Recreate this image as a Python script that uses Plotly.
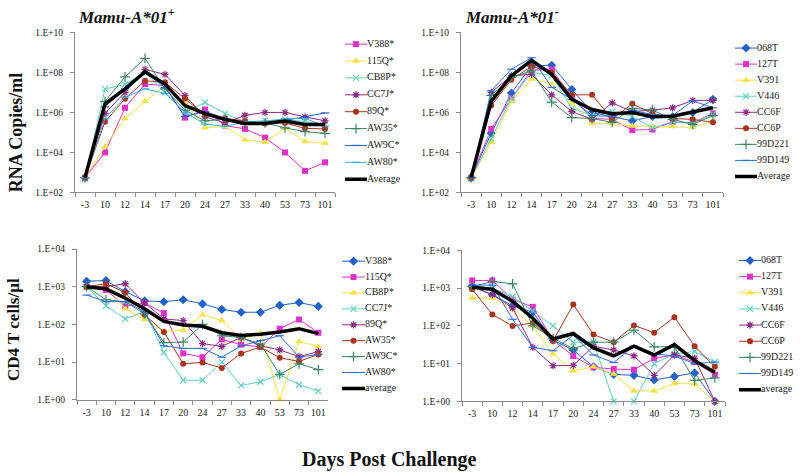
import plotly.graph_objects as go

# ---------------- data ----------------
days = ["-3", "10", "12", "14", "17", "20", "24", "27", "33", "40", "53", "73", "101"]

# RNA copies/ml, Mamu-A*01+
tl_names = ["V388*", "115Q*", "CB8P*", "CC7J*", "89Q*", "AW35*", "AW9C*", "AW80*", "Average"]
tl_V388 = [550, 1.0e4, 1.7e6, 2.6e7, 2.2e7, 5.5e5, 1.4e6, 2.2e5, 1.5e5, 5.5e4, 1.0e4, 1.2e3, 3.2e3]
tl_115Q = [550, 2.0e4, 5.0e5, 3.6e6, 2.2e7, 3.0e6, 1.7e5, 2.0e5, 4.3e4, 3.2e4, 1.6e5, 3.5e4, 2.9e4]
tl_CB8P = [500, 1.5e7, 2.5e7, 1.0e8, 1.0e7, 1.0e6, 3.2e6, 8.7e5, 3.4e5, 4.0e5, 4.4e5, 3.5e5, 2.5e5]
tl_CC7J = [520, 9.0e5, 1.0e7, 1.4e8, 8.0e7, 7.0e6, 6.0e5, 3.0e5, 7.2e5, 1.0e6, 1.0e6, 6.0e5, 3.8e5]
tl_89Q = [550, 3.4e5, 4.8e6, 3.8e7, 3.2e7, 5.0e6, 7.3e5, 5.0e5, 3.7e5, 2.8e5, 3.0e5, 1.6e5, 1.5e5]
tl_AW35 = [550, 3.6e6, 6.0e7, 5.0e8, 1.5e7, 1.3e6, 3.8e5, 4.5e5, 2.5e5, 3.0e5, 1.7e5, 1.1e5, 9.0e4]
tl_AW9C = [550, 1.9e6, 1.5e7, 1.0e8, 1.8e7, 6.3e5, 1.1e6, 5.0e5, 2.8e5, 3.0e5, 4.0e5, 6.0e5, 9.4e5]
tl_AW80 = [550, 5.0e5, 5.8e6, 1.5e7, 9.0e6, 1.0e6, 2.6e5, 2.0e5, 3.4e5, 3.4e5, 5.0e5, 5.0e5, 2.1e5]
tl_avg = [550, 2.7e6, 1.5e7, 1.07e8, 2.6e7, 2.2e6, 8.7e5, 4.5e5, 2.8e5, 2.8e5, 3.7e5, 2.5e5, 2.5e5]

# RNA copies/ml, Mamu-A*01-
tr_names = ["068T", "127T", "V391", "V446", "CC6F", "CC6P", "99D221", "99D149", "Average"]
tr_068T = [550, 9.0e4, 9.3e6, 2.1e8, 2.3e8, 1.4e7, 1.0e6, 6.0e5, 3.8e5, 6.3e5, 6.0e5, 1.0e6, 4.5e6]
tr_127T = [550, 1.5e5, 5.0e6, 1.3e8, 1.4e8, 5.8e6, 5.0e5, 4.5e5, 1.3e5, 1.4e5, 3.4e5, 3.0e5, 9.0e5]
tr_V391 = [500, 3.2e4, 3.6e6, 4.7e7, 2.6e7, 2.9e6, 2.8e5, 2.8e5, 2.1e5, 2.0e5, 2.0e5, 1.8e5, 3.5e5]
tr_V446 = [500, 5.0e4, 5.0e6, 1.0e8, 7.0e7, 1.6e6, 7.2e5, 1.1e6, 6.3e5, 1.7e5, 3.5e5, 2.8e5, 8.0e5]
tr_CC6F = [520, 1.0e7, 6.8e7, 8.0e7, 7.6e6, 1.1e6, 4.6e5, 3.0e6, 1.1e6, 1.3e6, 1.7e6, 4.0e6, 4.0e6]
tr_CC6P = [550, 2.2e6, 4.3e7, 2.0e8, 1.0e8, 7.6e6, 7.6e6, 4.6e5, 2.7e6, 8.7e5, 5.0e5, 4.5e5, 3.2e5]
tr_99D221 = [550, 7.0e6, 5.6e7, 1.2e8, 3.3e6, 5.5e5, 5.0e5, 3.2e5, 1.6e6, 1.3e6, 4.5e5, 2.5e5, 7.0e5]
tr_99D149 = [550, 1.2e7, 1.45e8, 5.4e8, 1.8e7, 4.5e6, 7.0e5, 6.3e5, 1.3e6, 7.8e5, 7.0e5, 3.8e6, 1.7e6]
tr_avg = [550, 3.6e6, 6.8e7, 4.0e8, 8.0e7, 4.5e6, 1.4e6, 8.7e5, 1.0e6, 6.0e5, 6.5e5, 1.1e6, 1.7e6]

# CD4 T cells/ul, Mamu-A*01+
bl_names = ["V388*", "115Q*", "CB8P*", "CC7J*", "89Q*", "AW35*", "AW9C*", "AW80*", "average"]
bl_V388 = [1400, 1450, 740, 420, 400, 450, 350, 250, 210, 210, 320, 380, 300]
bl_115Q = [1000, 820, 300, 370, 200, 17, 13.5, 40, 29, 25, 77, 135, 60]
bl_CB8P = [900, 1100, 260, 135, 65, 71, 180, 126, 40, 60, 1, 35, 26]
bl_CC7J = [1000, 310, 140, 220, 18, 3.3, 3.3, 10, 2.4, 3, 4.7, 2.5, 1.7]
bl_89Q = [1000, 1000, 1200, 370, 140, 126, 31, 26, 45, 27, 21, 14, 19]
bl_AW35 = [1000, 1200, 700, 180, 63, 9, 9.8, 7, 17, 25, 13, 10.4, 16]
bl_AW9C = [1000, 450, 400, 190, 33, 34, 100, 50, 45, 30, 4.7, 9, 6.3]
bl_AW80 = [600, 400, 400, 220, 27, 23, 23, 13.5, 27, 37, 50, 13.5, 16]
bl_avg = [1000, 870, 500, 260, 120, 96, 89, 60, 51, 55, 63, 77, 57]

# CD4 T cells/ul, Mamu-A*01-
br_names = ["068T", "127T", "V391", "V446", "CC6F", "CC6P", "99D221", "99D149", "average"]
br_068T = [1100, 670, 340, 230, 42, 23, 8.3, 5.2, 4.9, 3.7, 4.6, 5.7, 1]
br_127T = [1600, 1600, 500, 320, 42, 16, 8, 7.2, 6.9, 13.8, 17, 11, 5.1]
br_V391 = [550, 550, 280, 100, 18, 6.5, 8.3, 5.3, 1.9, 1.9, 3, 2.9, 1]
br_V446 = [1100, 1000, 600, 250, 100, 37, 37, 1, 1, 10, 18, 21, 11]
br_CC6F = [1100, 670, 300, 27, 8.8, 9, 29, 23, 16, 4.9, 17, 14, 1]
br_CC6P = [940, 200, 100, 120, 40, 370, 59, 37, 103, 66, 170, 29, 8.3]
br_99D221 = [1100, 1500, 1300, 100, 47, 25, 37, 37, 77, 28, 28, 3.6, 4.2]
br_99D149 = [1200, 1200, 150, 27, 22, 57, 17, 10.7, 29, 18, 16, 10, 11]
br_avg = [1050, 940, 450, 160, 45, 63, 26, 16, 29, 17, 32, 12, 5.9]

rna_ticks = [1e2, 1e4, 1e6, 1e8, 1e10]
rna_ticktext = ["1.E+02", "1.E+04", "1.E+06", "1.E+08", "1.E+10"]
cd4_ticks = [1, 10, 100, 1000, 10000]
cd4_ticktext = ["1.E+00", "1.E+01", "1.E+02", "1.E+03", "1.E+04"]

# ---------------- styles ----------------
SERIF = "Liberation Serif, Times New Roman, serif"
W, H = 800, 472
BLUE = "#2462c8"
MAGENTA = "#e032c8"
YELLOW = "#f6e246"
TURQ = "#62cfc0"
PURPLE = "#8c2a84"
BROWN = "#a83420"
GREEN = "#3a8764"
BLUE2 = "#2f6fd8"
SKY = "#3ab0e8"


def sty(color, symbol, size, open_=False):
    return dict(color=color, symbol=symbol, size=size, open_=open_)


STY_A = [sty(MAGENTA, "square", 6), sty(YELLOW, "triangle-up", 7), sty(TURQ, "x-thin", 6, True),
         sty(PURPLE, "asterisk", 6, True), sty(BROWN, "circle", 6), sty(GREEN, "cross-thin", 7, True),
         sty("#2a5cc0", "line-ew", 6, True), sty(SKY, "line-ew", 6, True)]
STY_B = [sty(BLUE, "diamond", 7), sty(MAGENTA, "square", 6), sty(YELLOW, "triangle-up", 7),
         sty(TURQ, "x-thin", 6, True), sty(PURPLE, "asterisk", 6, True), sty(BROWN, "circle", 6),
         sty(GREEN, "cross-thin", 7, True), sty(BLUE2, "line-ew", 6, True)]


def marker_of(s):
    if s["open_"]:
        return dict(symbol=s["symbol"], size=s["size"], color=s["color"],
                    line=dict(color=s["color"], width=1.2))
    return dict(symbol=s["symbol"], size=s["size"], color=s["color"], line=dict(width=0))


panels = [
    dict(names=tl_names, series=[tl_V388, tl_115Q, tl_CB8P, tl_CC7J, tl_89Q, tl_AW35, tl_AW9C, tl_AW80],
         avg=tl_avg, styles=STY_A, xpx=(75, 335), ypx=(28, 191.5), yr=[2, 10],
         tv=rna_ticks, tt=rna_ticktext, leg=(345, 367, 40, 17.25)),
    dict(names=tr_names, series=[tr_068T, tr_127T, tr_V391, tr_V446, tr_CC6F, tr_CC6P, tr_99D221, tr_99D149],
         avg=tr_avg, styles=STY_B, xpx=(461, 723), ypx=(28, 191.5), yr=[2, 10],
         tv=rna_ticks, tt=rna_ticktext, leg=(735, 757, 44, 16.4)),
    dict(names=bl_names, series=[bl_V388, bl_115Q, bl_CB8P, bl_CC7J, bl_89Q, bl_AW35, bl_AW9C, bl_AW80],
         avg=bl_avg, styles=STY_B, xpx=(77, 328), ypx=(249.3, 403.3), yr=[0, 4],
         tv=cd4_ticks, tt=cd4_ticktext, leg=(342, 365, 261.7, 16.25)),
    dict(names=br_names, series=[br_068T, br_127T, br_V391, br_V446, br_CC6F, br_CC6P, br_99D221, br_99D149],
         avg=br_avg, styles=STY_B, xpx=(462, 725), ypx=(250.7, 405), yr=[0, 4],
         tv=cd4_ticks, tt=cd4_ticktext, leg=(739, 761, 261, 16.5)),
]

fig = go.Figure()
layout = dict(width=W, height=H, margin=dict(l=0, r=0, t=0, b=0), paper_bgcolor="white",
              plot_bgcolor="rgba(0,0,0,0)", showlegend=False, font=dict(family=SERIF, color="#222"))
AX = "#8a8a8a"

for i, p in enumerate(panels):
    k = i + 1
    xa = "x" if k == 1 else f"x{k}"
    ya = "y" if k == 1 else f"y{k}"
    for s_vals, st, nm in zip(p["series"], p["styles"], p["names"]):
        fig.add_trace(go.Scatter(x=days, y=s_vals, name=nm, mode="lines+markers", xaxis=xa, yaxis=ya,
                                 line=dict(color=st["color"], width=1), marker=marker_of(st),
                                 cliponaxis=False))
    fig.add_trace(go.Scatter(x=days, y=p["avg"], name=p["names"][-1], mode="lines", xaxis=xa, yaxis=ya,
                             line=dict(color="black", width=3.5), cliponaxis=False))
    x0, x1 = p["xpx"]
    y0, y1 = p["ypx"]
    layout[f"xaxis{'' if k == 1 else k}"] = dict(
        domain=[x0 / W, x1 / W], anchor=ya, type="category", categoryorder="array", categoryarray=days,
        range=[-0.5, 12.5], tickson="boundaries", ticks="outside", ticklen=4, tickcolor=AX,
        showline=True, linecolor=AX, linewidth=1, showgrid=False, zeroline=False, tickangle=0,
        tickfont=dict(family=SERIF, size=10, color="#222"), ticklabelstandoff=3)
    layout[f"yaxis{'' if k == 1 else k}"] = dict(
        domain=[1 - y1 / H, 1 - y0 / H], anchor=xa, type="log", range=p["yr"], tickvals=p["tv"],
        ticktext=p["tt"], ticks="outside", ticklen=4, tickcolor=AX, showline=True, linecolor=AX,
        linewidth=1, showgrid=False, zeroline=False, tickfont=dict(family=SERIF, size=9.5, color="#222"),
        ticklabelstandoff=5)

    # legend drawn on its own small axes
    lk = k + 4
    lx0, lx1, ly0, ls = p["leg"]
    n = len(p["names"])
    lxa, lya = f"x{lk}", f"y{lk}"
    for j, nm in enumerate(p["names"]):
        if j < n - 1:
            st = p["styles"][j]
            fig.add_trace(go.Scatter(x=[0, 1], y=[j, j], mode="lines", xaxis=lxa, yaxis=lya,
                                     line=dict(color=st["color"], width=1), hoverinfo="skip"))
            fig.add_trace(go.Scatter(x=[0.5], y=[j], mode="markers", xaxis=lxa, yaxis=lya,
                                     marker=marker_of(st), hoverinfo="skip", cliponaxis=False))
        else:
            fig.add_trace(go.Scatter(x=[0, 1], y=[j, j], mode="lines", xaxis=lxa, yaxis=lya,
                                     line=dict(color="black", width=3.5), hoverinfo="skip"))
    fig.add_trace(go.Scatter(x=[1] * n, y=list(range(n)), text=p["names"], mode="text",
                             textposition="middle right", xaxis=lxa, yaxis=lya, cliponaxis=False,
                             textfont=dict(family=SERIF, size=10, color="#222"), hoverinfo="skip"))
    top = ly0 - ls / 2
    bot = ly0 + (n - 1) * ls + ls / 2
    layout[f"xaxis{lk}"] = dict(domain=[lx0 / W, lx1 / W], anchor=lya, range=[0, 1], visible=False,
                                fixedrange=True)
    layout[f"yaxis{lk}"] = dict(domain=[1 - bot / H, 1 - top / H], anchor=lxa, range=[n - 0.5, -0.5],
                                visible=False, fixedrange=True)

fig.update_layout(**layout)

annots = [
    dict(text="<b><i>Mamu-A*01<sup>+</sup></i></b>", x=76 / W, y=1 - 11 / H, xanchor="left",
         yanchor="middle", font=dict(size=17)),
    dict(text="<b><i>Mamu-A*01<sup>-</sup></i></b>", x=463 / W, y=1 - 11 / H, xanchor="left",
         yanchor="middle", font=dict(size=17)),
    dict(text="<b>RNA Copies/ml</b>", x=16 / W, y=1 - 130 / H, textangle=-90, xanchor="center",
         yanchor="middle", font=dict(size=18)),
    dict(text="<b>CD4 T cells/µl</b>", x=14 / W, y=1 - 332 / H, textangle=-90, xanchor="center",
         yanchor="middle", font=dict(size=17)),
    dict(text="<b>Days Post Challenge</b>", x=389 / W, y=1 - 464 / H, xanchor="center",
         yanchor="middle", font=dict(size=20)),
]
for a in annots:
    a.update(xref="paper", yref="paper", showarrow=False)
    a["font"] = dict(family=SERIF, color="#111", **a["font"])
fig.update_layout(annotations=annots)

fig.write_html("out.html", config={"displayModeBar": False},
               post_script="document.body.style.margin='0';document.body.style.overflow='hidden';")
